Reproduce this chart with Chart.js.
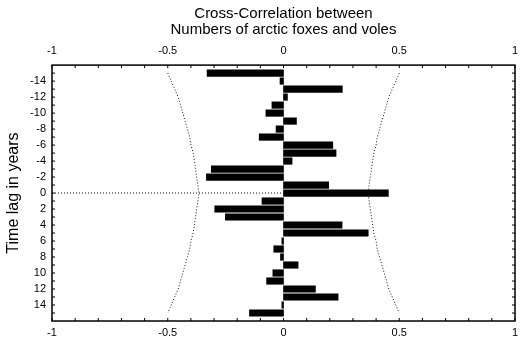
<!DOCTYPE html>
<html>
<head>
<meta charset="utf-8">
<script src="https://cdn.jsdelivr.net/npm/chart.js@4/dist/chart.umd.min.js"></script>
<style>
  body { margin: 0; background: #fff; }
  canvas { display: block; }
</style>
</head>
<body>
<canvas id="ccf" width="521" height="340"></canvas>
<script>
const LAGS = [-15, -14, -13, -12, -11, -10, -9, -8, -7, -6, -5, -4, -3, -2, -1, 0,
  1, 2, 3, 4, 5, 6, 7, 8, 9, 10, 11, 12, 13, 14, 15];

// cross-correlation foxes vs voles
const CORR = [-0.33, -0.015, 0.254, 0.017, -0.05, -0.076, 0.056, -0.032, -0.105, 0.213,
  0.227, 0.037, -0.312, -0.333, 0.195, 0.453, -0.093, -0.297, -0.251, 0.253,
  0.366, -0.007, -0.042, -0.013, 0.063, -0.046, -0.073, 0.138, 0.236, -0.007, -0.147];

// dotted confidence limits (half width, same on both sides)
const CONF = [0.50, 0.485, 0.47, 0.455, 0.445, 0.435, 0.425, 0.415, 0.405, 0.40,
  0.39, 0.385, 0.38, 0.375, 0.37, 0.365, 0.37, 0.375, 0.38, 0.385,
  0.39, 0.40, 0.405, 0.415, 0.425, 0.435, 0.445, 0.455, 0.47, 0.485, 0.50];

const LAG_TICKS = [-14, -12, -10, -8, -6, -4, -2, 0, 2, 4, 6, 8, 10, 12, 14];
const X_TICKS = [-1, -0.5, 0, 0.5, 1];

const FONT = "'Liberation Sans', Arial, sans-serif";

function dottedLine(points) {
  return {
    type: "line",
    data: points,
    borderColor: "#111",
    borderWidth: 1,
    borderDash: [1, 2],
    pointRadius: 0,
    tension: 0,
    fill: false,
    indexAxis: "y",
  };
}

// frame plus small inward tick marks on all four sides
const framePlugin = {
  id: "frame",
  afterDraw(chart) {
    const { ctx, chartArea: a, scales } = chart;
    ctx.save();
    ctx.strokeStyle = "#000";
    ctx.lineWidth = 1.5;
    ctx.strokeRect(a.left, a.top, a.right - a.left, a.bottom - a.top);
    ctx.lineWidth = 1;
    ctx.beginPath();
    for (let i = -10; i <= 10; i++) {
      const px = scales.x.getPixelForValue(i / 10);
      ctx.moveTo(px, a.bottom);
      ctx.lineTo(px, a.bottom - 3);
      ctx.moveTo(px, a.top);
      ctx.lineTo(px, a.top + 3);
    }
    LAGS.forEach((lag) => {
      const py = scales.y.getPixelForValue(lag);
      ctx.moveTo(a.left, py);
      ctx.lineTo(a.left + 3, py);
      ctx.moveTo(a.right, py);
      ctx.lineTo(a.right - 3, py);
    });
    ctx.stroke();
    ctx.restore();
  },
};

const tickFont = { family: FONT, size: 11 };
const plainNum = (v) => String(v);

// fixed size for the horizontal axes, no extra edge padding for end labels
function fitX(height) {
  return (s) => {
    s.height = height;
    s.paddingLeft = 0;
    s.paddingRight = 0;
  };
}

new Chart(document.getElementById("ccf"), {
  type: "bar",
  data: {
    datasets: [
      dottedLine(LAGS.map((lag, i) => ({ x: -CONF[i], y: lag }))),
      dottedLine(LAGS.map((lag, i) => ({ x: CONF[i], y: lag }))),
      dottedLine([{ x: -1, y: 0 }, { x: 0, y: 0 }]),
      {
        type: "bar",
        data: LAGS.map((lag, i) => ({ x: CORR[i], y: lag })),
        backgroundColor: "#000",
        borderWidth: 0,
        barThickness: 6.5,
        indexAxis: "y",
      },
    ],
  },
  options: {
    indexAxis: "y",
    responsive: false,
    animation: false,
    layout: { padding: { left: 0, right: 6, top: 0, bottom: 0 } },
    plugins: {
      legend: { display: false },
      tooltip: { enabled: false },
      title: {
        display: true,
        fullSize: false,
        text: ["Cross-Correlation between", "Numbers of arctic foxes and voles"],
        color: "#000",
        font: { family: FONT, size: 15, weight: "normal", lineHeight: 1.07 },
        padding: { top: 6, bottom: 0 },
      },
    },
    scales: {
      x: {
        type: "linear",
        position: "bottom",
        min: -1,
        max: 1,
        afterBuildTicks: (s) => { s.ticks = X_TICKS.map((v) => ({ value: v })); },
        afterFit: fitX(19),
        grid: { display: false, drawTicks: false },
        border: { display: false },
        ticks: { color: "#000", font: tickFont, padding: 5, maxRotation: 0, callback: plainNum },
      },
      x2: {
        type: "linear",
        position: "top",
        min: -1,
        max: 1,
        afterBuildTicks: (s) => { s.ticks = X_TICKS.map((v) => ({ value: v })); },
        afterFit: fitX(27),
        grid: { display: false, drawTicks: false },
        border: { display: false },
        ticks: { color: "#000", font: tickFont, padding: 8, maxRotation: 0, callback: plainNum },
      },
      y: {
        type: "linear",
        reverse: true,
        offset: false,
        min: -16,
        max: 16,
        afterBuildTicks: (s) => { s.ticks = LAG_TICKS.map((v) => ({ value: v })); },
        afterFit: (s) => { s.width = 52; },
        grid: { display: false, drawTicks: false, offset: false },
        border: { display: false },
        ticks: { color: "#000", font: tickFont, padding: 6, callback: plainNum },
        title: {
          display: true,
          text: "Time lag in years",
          color: "#000",
          font: { family: FONT, size: 16 },
          padding: { top: 4, bottom: 0 },
        },
      },
    },
  },
  plugins: [framePlugin],
});
</script>
</body>
</html>
